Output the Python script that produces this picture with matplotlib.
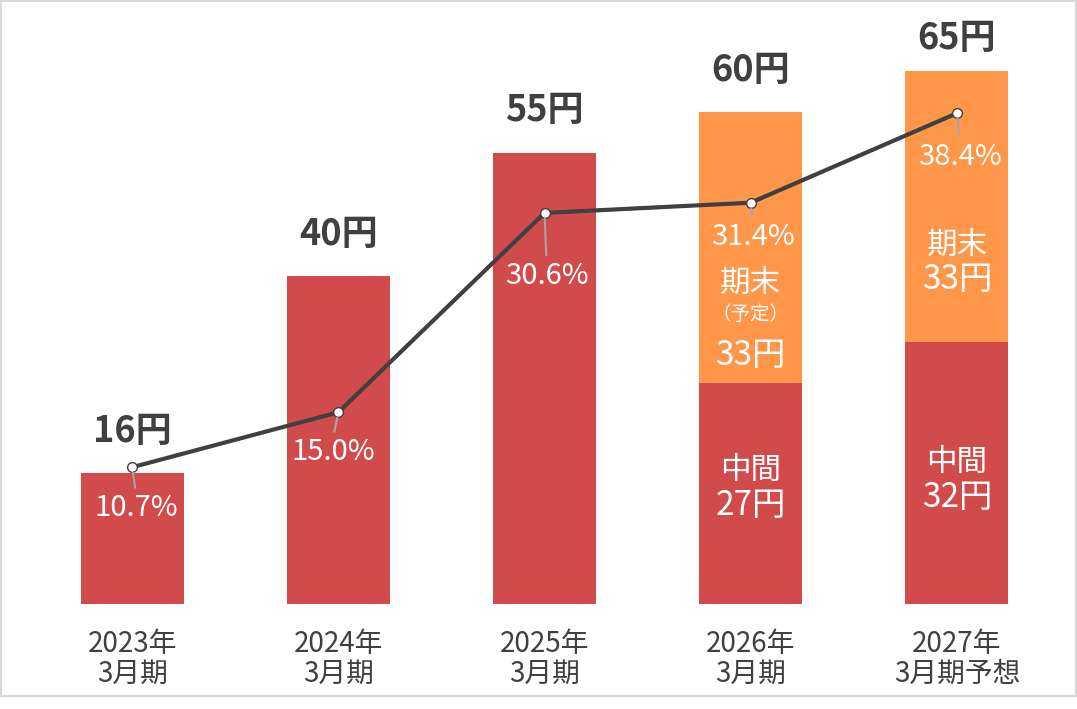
import numpy as np
import matplotlib.pyplot as plt
from matplotlib.patches import Rectangle

plt.rcParams['font.family'] = ['Noto Sans CJK JP', 'DejaVu Sans']

# data
periods = ['2023年\n3月期', '2024年\n3月期', '2025年\n3月期', '2026年\n3月期', '2027年\n3月期予想']
interim = [16, 40, 55, 27, 32]      # red part (full year for first three)
year_end = [0, 0, 0, 33, 33]        # orange part
totals = [16, 40, 55, 60, 65]
payout = [10.7, 15.0, 30.6, 31.4, 38.4]
payout_labels = ['10.7%', '15.0%', '30.6%', '31.4%', '38.4%']

# label offsets in px
pct_off = [(4, 41), (-5, 40), (2, 63), (2, 34), (3, 44)]
total_off = [41, 42, 42, 41, 32]

red = '#D24B4C'
orange = '#FF964A'
dark = '#404040'

W, H = 1077, 709
PX = 8.2  # px per yen
fig = plt.figure(figsize=(W / 100, H / 100), dpi=100)
ax_bottom = 604
ax_height = 70 * PX
ax_left, ax_right = 29, 1060
ax = fig.add_axes([ax_left / W, (H - ax_bottom) / H,
                   (ax_right - ax_left) / W, ax_height / H])


def ypx(p):
    # pixel row (from top) -> yen units
    return (ax_bottom - p) / PX


x = np.arange(len(periods))
ax.bar(x, interim, width=0.5, color=red, zorder=2)
ax.bar(x, year_end, width=0.5, bottom=interim, color=orange, zorder=2)
ax.set_xlim(-0.5, len(periods) - 0.5)
ax.set_ylim(0, 70)
ax.set_yticks([])
ax.set_xticks(x)
ax.set_xticklabels(periods, fontsize=20, color=dark, linespacing=1.0)
ax.tick_params(axis='x', length=0, pad=18)
for s in ax.spines.values():
    s.set_visible(False)

# total labels above bars
for xi, t, off in zip(x, totals, total_off):
    ax.annotate(f'{t}円', (xi, t), xytext=(0, off * 0.72), textcoords='offset points',
                ha='center', va='center', fontsize=26, fontweight='bold', color=dark)

# labels inside bars
inner = [
    (3, 470, '中間', 22), (3, 505, '27円', 24),
    (4, 462, '中間', 22), (4, 497, '32円', 24),
    (3, 283, '期末', 22), (3, 314, '（予定）', 14), (3, 355, '33円', 24),
    (4, 245, '期末', 22), (4, 280, '33円', 24),
]
for xi, p, s, fs in inner:
    ax.text(xi, ypx(p), s, ha='center', va='center', color='white', fontsize=fs, zorder=3)

# payout ratio line on secondary axis (0 at baseline, 12.78 px per %)
ax2 = ax.twinx()
ax2.set_ylim(0, ax_height / 12.78)
ax2.set_yticks([])
for s in ax2.spines.values():
    s.set_visible(False)
ax2.plot(x, payout, color=dark, lw=3, zorder=4)
ax2.plot(x, payout, 'o', ms=7, mfc='white', mec=dark, mew=1, zorder=5)
for xi, p, lab, (dx, dy) in zip(x, payout, payout_labels, pct_off):
    ax2.annotate(lab, (xi, p), xytext=(dx * 0.72, -dy * 0.72), textcoords='offset points',
                 ha='center', va='center', fontsize=21, color='white', zorder=6,
                 arrowprops=dict(arrowstyle='-', color='#A6A6A6', lw=1.5,
                                 shrinkA=2, shrinkB=4, relpos=(0.5, 1.0)))

# light frame around the picture
fig.patches.append(Rectangle((1 / W, (H - 696) / H), 1075 / W, 695 / H,
                             transform=fig.transFigure, fill=False,
                             edgecolor='#D9D9D9', lw=1.5))

fig.savefig('out.png', dpi=100)
plt.close()
